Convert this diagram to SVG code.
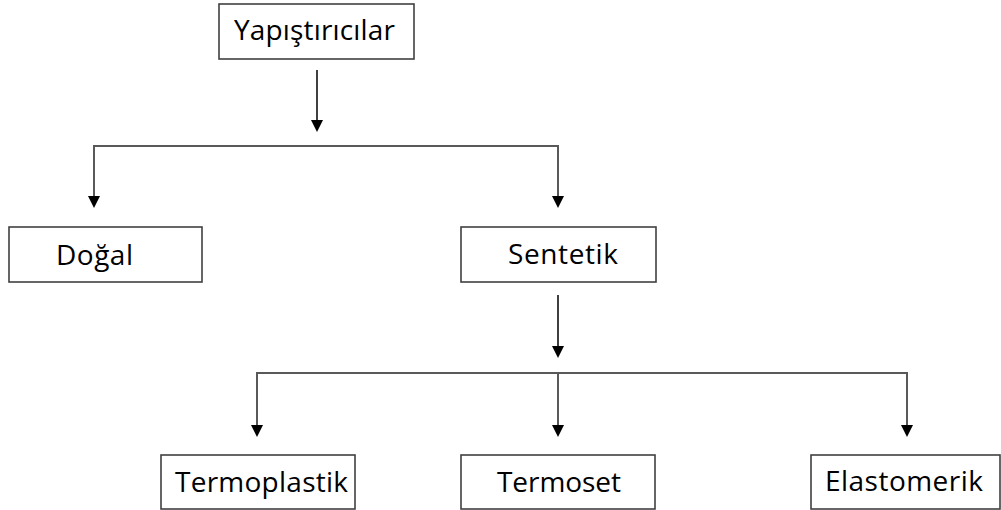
<svg xmlns="http://www.w3.org/2000/svg" width="1001" height="510" viewBox="0 0 1001 510">
<defs>
<style>
.box{fill:#fff;stroke:#404040;stroke-width:1.6}
.lbl{font-family:"Open Sans","Liberation Sans",sans-serif;font-size:28px;fill:#000}
.ln{fill:none;stroke:#595959;stroke-width:2}
.ar{fill:none;stroke:#000;stroke-width:1.5}
.hd{fill:#000}
</style>
</defs>
<rect width="1001" height="510" fill="#fff"/>
<g id="connectors">
<line class="ar" x1="317" y1="70" x2="317" y2="121"/>
<path class="hd" d="M317,132 l-6,-12 h12 z"/>
<polyline class="ln" points="94,197 94,146 558,146 558,197"/>
<path class="hd" d="M94,208 l-6,-12 h12 z"/>
<path class="hd" d="M558,208 l-6,-12 h12 z"/>
<line class="ar" x1="558" y1="295" x2="558" y2="347"/>
<path class="hd" d="M558,358 l-6,-12 h12 z"/>
<polyline class="ln" points="257,426 257,373 907,373 907,426"/>
<line class="ln" x1="558" y1="373" x2="558" y2="426"/>
<path class="hd" d="M257,437 l-6,-12 h12 z"/>
<path class="hd" d="M558,437 l-6,-12 h12 z"/>
<path class="hd" d="M907,437 l-6,-12 h12 z"/>
</g>
<g id="yapistiricilar">
<rect class="box" x="219" y="4" width="195" height="55"/>
<text class="lbl" x="234" y="40" textLength="161">Yapıştırıcılar</text>
</g>
<g id="dogal">
<rect class="box" x="9" y="227" width="193" height="55"/>
<text class="lbl" x="56" y="265" textLength="77">Doğal</text>
</g>
<g id="sentetik">
<rect class="box" x="461" y="227" width="195" height="55"/>
<text class="lbl" x="508" y="264" textLength="110">Sentetik</text>
</g>
<g id="termoplastik">
<rect class="box" x="161" y="455" width="194" height="54"/>
<text class="lbl" x="175" y="492" textLength="173">Termoplastik</text>
</g>
<g id="termoset">
<rect class="box" x="461" y="455" width="194" height="54"/>
<text class="lbl" x="497" y="492" textLength="124">Termoset</text>
</g>
<g id="elastomerik">
<rect class="box" x="811" y="455" width="189" height="54"/>
<text class="lbl" x="825" y="491" textLength="158">Elastomerik</text>
</g>
</svg>
